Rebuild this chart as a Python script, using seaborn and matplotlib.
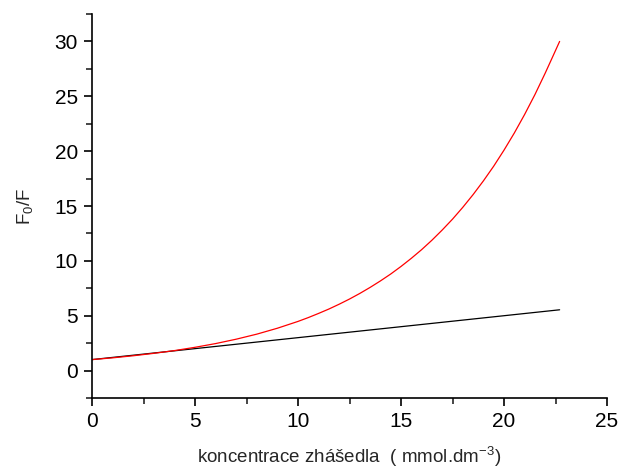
import matplotlib
matplotlib.use("Agg")
import matplotlib.pyplot as plt
import seaborn as sns
import pandas as pd
from matplotlib.ticker import MultipleLocator

# Data
x_red = [0, 1, 2, 3, 4, 5, 6, 7, 8, 9, 10, 10.5, 11, 11.5, 12, 12.5, 13, 13.5, 14, 14.5,
         15, 15.5, 16, 16.5, 17, 17.5, 18, 18.5, 19, 19.5, 20, 20.5, 21, 21.5, 22, 22.35, 22.7]
y_red = [1.0, 1.16, 1.35, 1.57, 1.82, 2.12, 2.46, 2.86, 3.32, 3.86, 4.48, 4.83, 5.21, 5.61,
         6.05, 6.52, 7.03, 7.58, 8.17, 8.80, 9.49, 10.23, 11.02, 11.88, 12.81, 13.80,
         14.88, 16.04, 17.29, 18.63, 20.09, 21.65, 23.34, 25.15, 27.11, 28.55, 30.0]
x_black = [0, 5, 10, 15, 20, 22.7]
y_black = [1.0, 2.0, 3.0, 4.0, 5.0, 5.54]

x_ticks = [0, 5, 10, 15, 20, 25]
y_ticks = [0, 5, 10, 15, 20, 25, 30]

sns.set_theme(style="ticks")
plt.rcParams['font.family'] = ['Liberation Sans', 'DejaVu Sans']
plt.rcParams['mathtext.fontset'] = 'custom'
plt.rcParams['mathtext.rm'] = 'Liberation Sans'
plt.rcParams['mathtext.it'] = 'Liberation Sans'
plt.rcParams['mathtext.default'] = 'regular'

df_red = pd.DataFrame({'x': x_red, 'y': y_red})
df_black = pd.DataFrame({'x': x_black, 'y': y_black})

fig = plt.figure(figsize=(6.2, 4.7), dpi=100)
ax = fig.add_axes([92/620, 1-398/470, (607-92)/620, (398-14)/470])

sns.lineplot(data=df_black, x='x', y='y', ax=ax, color='black', lw=0.9, sort=False)
sns.lineplot(data=df_red, x='x', y='y', ax=ax, color='red', lw=0.9, sort=False)

ax.set_xlim(0, 25)
ax.set_ylim(-2.5, 32.5)
ax.set_xticks(x_ticks)
ax.set_yticks(y_ticks)
ax.xaxis.set_minor_locator(MultipleLocator(2.5))
ax.yaxis.set_minor_locator(MultipleLocator(2.5))
ax.tick_params(which='major', direction='out', length=6, width=1.2, labelsize=15, colors='black', pad=4)
ax.tick_params(which='minor', direction='out', length=4, width=1.2)
for s in ['top', 'right']:
    ax.spines[s].set_visible(False)
for s in ['left', 'bottom']:
    ax.spines[s].set_linewidth(1.2)
    ax.spines[s].set_color('black')

ax.set_xlabel(r'koncentrace zhášedla  ( mmol.dm$^{-3}$)', fontsize=13.5, labelpad=10)
ax.set_ylabel(r'F$_0$/F', fontsize=13.5, labelpad=14)

fig.savefig('out.png', dpi=100)
